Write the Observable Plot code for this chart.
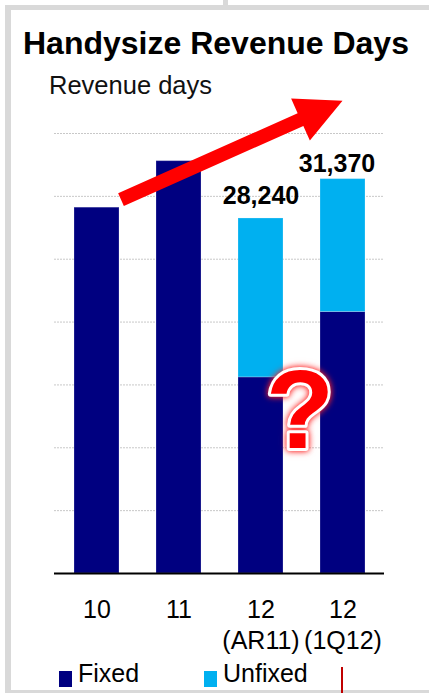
<!DOCTYPE html>
<html>
<head>
<meta charset="utf-8">
<script src="https://cdn.jsdelivr.net/npm/d3@7"></script>
<script src="https://cdn.jsdelivr.net/npm/@observablehq/plot@0.6"></script>
<style>
  html, body { margin: 0; padding: 0; background: #fff; }
  body { width: 429px; height: 693px; overflow: hidden; position: relative;
         font-family: "Liberation Sans", Arial, sans-serif; color: #000; }
  .frame-left { position: absolute; left: 5px; top: 5px; width: 6px; height: 688px; background: #d9d9d9; }
  .frame-top { position: absolute; left: 5px; top: 5px; width: 424px; height: 5px; background: #d9d9d9; }
  .frame-stub { position: absolute; left: 223px; top: 0; width: 5px; height: 6px; background: #d9d9d9; }
  .frame-bottom { position: absolute; left: 5px; top: 690px; width: 424px; height: 3px; background: #d9d9d9; }
  .title { position: absolute; left: 23px; top: 27px; font-size: 32px; line-height: 32px; font-weight: bold; white-space: nowrap; }
  .subtitle { position: absolute; left: 49px; top: 72px; font-size: 25.5px; line-height: 26px; color: #111; white-space: nowrap; }
  #chart { position: absolute; left: 0; top: 96px; }
  .legend-item { position: absolute; top: 660px; font-size: 25px; line-height: 26px; white-space: nowrap; }
  .swatch { position: absolute; width: 13px; height: 16px; }
  .redstub { position: absolute; left: 341px; top: 667px; width: 2px; height: 26px; background: #c00000; }
  .qmark { filter: drop-shadow(0 0 3px rgba(255,0,0,0.75)) drop-shadow(0 0 2px rgba(255,80,80,0.6)); }
</style>
</head>
<body>
<div class="frame-stub"></div>
<div class="frame-top"></div>
<div class="frame-left"></div>
<div class="frame-bottom"></div>
<div class="title">Handysize Revenue Days</div>
<div class="subtitle">Revenue days</div>
<div id="chart"></div>
<div id="legend"></div>
<div class="redstub"></div>
<script>
// ---- data ----
const periods = ["10", "11", "12 (AR11)", "12 (1Q12)"];
const tickLabels = ["10", "11", "12\n(AR11)", "12\n(1Q12)"];
const fixedDays = [29100, 32800, 15600, 20800];
const unfixedDays = [0, 0, 12640, 10570];
const totalLabels = [28240, 31370];           // shown above the 2012 bars
const labelPeriods = ["12 (AR11)", "12 (1Q12)"];
const seriesNames = ["Fixed", "Unfixed"];
const seriesColors = ["#000080", "#00B0F0"];
const gridTicks = [5000, 10000, 15000, 20000, 25000, 30000, 35000];
// trend arrow: from the right edge of "10" up past "12 (1Q12)"
const arrowStart = {period: "10", value: 29700};
const arrowEnd = {period: "12 (1Q12)", value: 37560};
const questionMark = {period: "12 (AR11)", value: 10000, text: "?"};

// ---- tidy table ----
const rows = [];
periods.forEach((p, i) => {
  rows.push({period: p, series: "Fixed", value: fixedDays[i]});
  rows.push({period: p, series: "Unfixed", value: unfixedDays[i]});
});
const totals = labelPeriods.map((p, i) => ({period: p, total: totalLabels[i]}));
const ticks = periods.map((p, i) => ({period: p, label: tickLabels[i]}));

function arrowMark(index, scales) {
  const x = scales.x, y = scales.y;
  const bw = x.bandwidth ? x.bandwidth() : 45;
  const x0 = x(arrowStart.period) + bw + 2, y0 = y(arrowStart.value);
  const x1 = x(arrowEnd.period) + bw / 2, y1 = y(arrowEnd.value);
  const dx = x1 - x0, dy = y1 - y0, L = Math.hypot(dx, dy);
  const ux = dx / L, uy = dy / L, nx = -uy, ny = ux;
  const head = 46, half = 23, shaft = 7;
  const bx = x1 - ux * head, by = y1 - uy * head;
  const pts = [
    [x0 + nx * shaft, y0 + ny * shaft],
    [bx + nx * shaft, by + ny * shaft],
    [bx + nx * half, by + ny * half],
    [x1, y1],
    [bx - nx * half, by - ny * half],
    [bx - nx * shaft, by - ny * shaft],
    [x0 - nx * shaft, y0 - ny * shaft]
  ];
  const g = d3.create("svg:g");
  g.append("polygon").attr("points", pts.map(p => p.join(",")).join(" ")).attr("fill", "#FF0000");
  return g.node();
}

const chart = Plot.plot({
  width: 429,
  height: 560,
  marginTop: 37,
  marginBottom: 83,
  marginLeft: 54,
  marginRight: 45,
  style: {background: "transparent", overflow: "visible", fontFamily: "Liberation Sans, Arial, sans-serif"},
  x: {domain: periods, paddingInner: 0.455, paddingOuter: 0.23, axis: null},
  y: {domain: [0, 35000], axis: null},
  color: {domain: seriesNames, range: seriesColors},
  marks: [
    Plot.gridY(gridTicks, {stroke: "#c8c8c8", strokeOpacity: 1, strokeWidth: 1, strokeDasharray: "2,1"}),
    Plot.barY(rows, {x: "period", y: "value", fill: "series", order: seriesNames, stroke: "#ffffff", strokeOpacity: 0.22, strokeWidth: 1}),
    Plot.ruleY([0], {stroke: "#000", strokeWidth: 2}),
    Plot.text(ticks, {x: "period", y: () => 0, text: "label", lineAnchor: "top", dy: 22, fontSize: 25, lineHeight: 1.24, fill: "#000"}),
    Plot.text(totals.slice(0, 1), {x: "period", y: "total", text: d => d3.format(",")(d.total), lineAnchor: "bottom", dy: -14, fontSize: 25, fontWeight: "bold", fill: "#000"}),
    Plot.text(totals.slice(1), {x: "period", y: "total", text: d => d3.format(",")(d.total), lineAnchor: "bottom", dy: -7, dx: -6, fontSize: 25, fontWeight: "bold", fill: "#000"}),
    arrowMark,
    Plot.text([questionMark], {x: "period", y: "value", text: "text", lineAnchor: "bottom", dx: 39, fontSize: 112, fontWeight: "bold", fill: "#FF0000", stroke: "#ffffff", strokeWidth: 6, className: "qmark"})
  ]
});
document.getElementById("chart").appendChild(chart);

// ---- legend ----
const legend = document.getElementById("legend");
const legendPos = [{sw: 59, tx: 78}, {sw: 204, tx: 223}];
seriesNames.forEach((name, i) => {
  const s = document.createElement("div");
  s.className = "swatch";
  s.style.left = legendPos[i].sw + "px";
  s.style.top = "671px";
  s.style.background = seriesColors[i];
  legend.appendChild(s);
  const t = document.createElement("div");
  t.className = "legend-item";
  t.style.left = legendPos[i].tx + "px";
  t.textContent = name;
  legend.appendChild(t);
});
</script>
</body>
</html>
